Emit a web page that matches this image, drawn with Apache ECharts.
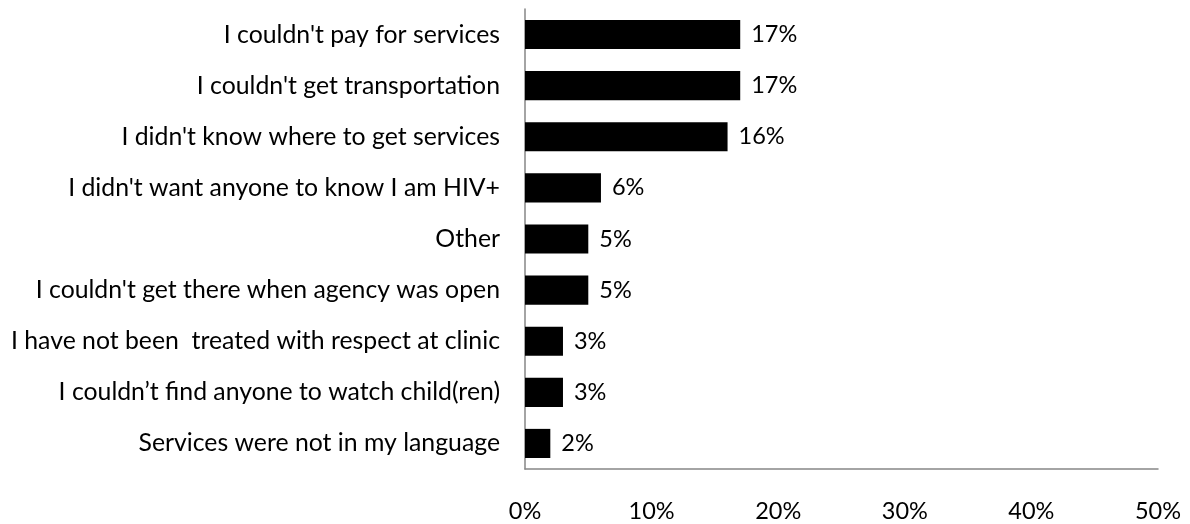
<!DOCTYPE html>
<html><head><meta charset="utf-8">
<script src="https://cdn.jsdelivr.net/npm/echarts@6/dist/echarts.min.js"></script>
<style>html,body{margin:0;padding:0;background:#fff}#c{width:1190px;height:524px}</style>
</head><body><div id="c"></div>
<script>
const categories = [
  "I couldn't pay for services",
  "I couldn't get transportation",
  "I didn't know where to get services",
  "I didn't want anyone to know I am HIV+",
  "Other",
  "I couldn't get there when agency was open",
  "I have not been  treated with respect at clinic",
  "I couldn\u2019t find anyone to watch child(ren)",
  "Services were not in my language"
];
const values = [17, 17, 16, 6, 5, 5, 3, 3, 2];
const xTicks = [0, 10, 20, 30, 40, 50];

const font = "Lato, 'Open Sans', sans-serif";
const chart = echarts.init(document.getElementById('c'));
chart.setOption({
  animation: false,
  grid: {left: 525, right: 32, top: 9, bottom: 55, containLabel: false},
  xAxis: {
    type: 'value', min: xTicks[0], max: xTicks[xTicks.length-1], interval: 10,
    axisLine: {show: true, lineStyle: {color: '#868686', width: 1.5}},
    axisTick: {show: false},
    splitLine: {show: false},
    axisLabel: {formatter: v => v + '%', color: '#000', fontSize: 23.5, fontFamily: font, margin: 30}
  },
  yAxis: {
    type: 'category', data: categories, inverse: true,
    axisLine: {show: true, lineStyle: {color: '#868686', width: 1.5}},
    axisTick: {show: false},
    axisLabel: {color: '#000', fontSize: 24.8, fontFamily: font, margin: 25}
  },
  series: [{
    type: 'bar', data: values, barCategoryGap: '43%',
    itemStyle: {color: '#000'},
    label: {show: true, position: 'right', distance: 11, formatter: p => p.value + '%', color: '#000', fontSize: 23.5, fontFamily: font}
  }]
});
</script></body></html>
